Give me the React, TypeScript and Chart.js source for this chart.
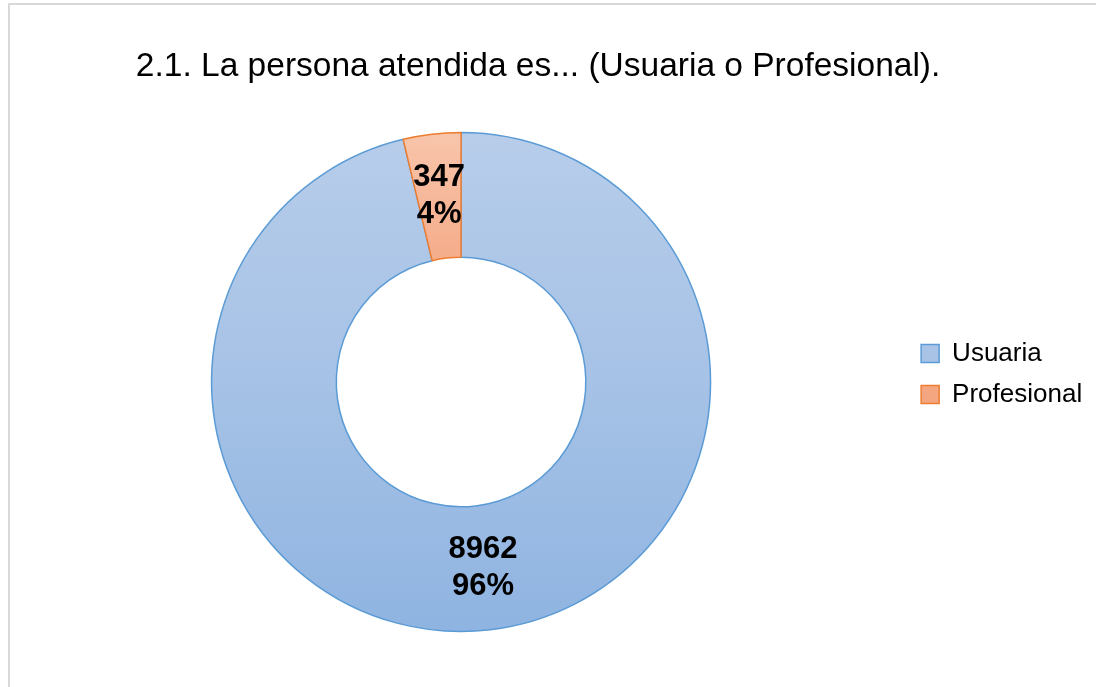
import React, { useEffect, useRef } from 'react';
import { Chart, registerables } from 'chart.js';

Chart.register(...registerables);

const TITLE = '2.1. La persona atendida es... (Usuaria o Profesional).';
const categories = ['Usuaria', 'Profesional'];
const values = [8962, 347];

const borderColors = ['#5b9bd5', '#ed7d31'];
const gradientStops: [number, string][][] = [
  [[0, '#b7cdea'], [0.5, '#a6c2e6'], [1, '#8fb4e1']],
  [[0, '#f8c5ab'], [0.25, '#f5ad8b'], [1, '#f29a6d']],
];

const FONT = '"Liberation Sans", Arial, sans-serif';

const sliceLabels = {
  id: 'sliceLabels',
  afterDatasetsDraw(chart: any) {
    const ctx = chart.ctx;
    const meta = chart.getDatasetMeta(0);
    const data: number[] = chart.data.datasets[0].data;
    const total = data.reduce((a, b) => a + b, 0);
    ctx.save();
    ctx.font = `bold 31px ${FONT}`;
    ctx.fillStyle = '#000000';
    ctx.textAlign = 'center';
    ctx.textBaseline = 'middle';
    meta.data.forEach((arc: any, i: number) => {
      const p = arc.tooltipPosition(false);
      const pct = Math.round((data[i] / total) * 100);
      ctx.fillText(String(data[i]), p.x, p.y - 18.5);
      ctx.fillText(pct + '%', p.x, p.y + 18.5);
    });
    ctx.restore();
  },
};

export default function App() {
  const ref = useRef<HTMLCanvasElement>(null);

  useEffect(() => {
    if (!ref.current) return;
    Chart.defaults.font.family = FONT;
    const chart = new Chart(ref.current, {
      type: 'doughnut',
      data: {
        labels: categories,
        datasets: [
          {
            data: values,
            backgroundColor: (c: any) => {
              const { ctx, chartArea } = c.chart;
              const i = c.dataIndex ?? 0;
              if (!chartArea) return borderColors[i];
              const g = ctx.createLinearGradient(0, chartArea.top, 0, chartArea.bottom);
              gradientStops[i].forEach(([o, col]) => g.addColorStop(o, col));
              return g;
            },
            borderColor: borderColors,
            borderWidth: 1.5,
            hoverOffset: 0,
          },
        ],
      },
      options: {
        responsive: false,
        devicePixelRatio: 1,
        animation: false,
        events: [],
        cutout: '50%',
        layout: { padding: { left: 0, right: 3.8, top: 0, bottom: 54.75 } },
        plugins: {
          title: {
            display: true,
            text: TITLE,
            color: '#000000',
            font: { size: 33.5, weight: 'normal', family: FONT, lineHeight: 1.2 },
            padding: { top: 47, bottom: 44.55 },
          },
          subtitle: {
            display: true,
            position: 'left',
            text: '',
            font: { size: 10, lineHeight: 1 },
            padding: { top: 22, bottom: 0 },
          },
          legend: {
            display: true,
            position: 'right',
            align: 'center',
            title: {
              display: true,
              text: '',
              font: { size: 10, lineHeight: 1 },
              padding: { top: 105.5, bottom: 0 },
            },
            labels: {
              boxWidth: 18,
              boxHeight: 18,
              padding: 15,
              color: '#000000',
              font: { size: 26, family: FONT },
            },
          },
          tooltip: { enabled: false },
        },
      },
      plugins: [sliceLabels],
    } as any);
    return () => chart.destroy();
  }, []);

  return (
    <div
      style={{
        position: 'fixed',
        left: 0,
        top: 0,
        width: 1096,
        height: 687,
        overflow: 'hidden',
        background: '#ffffff',
      }}
    >
      <div
        style={{
          position: 'absolute',
          left: 8,
          top: 3,
          width: 1200,
          height: 800,
          border: '2px solid #d9d9d9',
          boxSizing: 'border-box',
        }}
      />
      <canvas
        ref={ref}
        width={1112}
        height={687}
        style={{ position: 'absolute', left: -16, top: 0, width: 1112, height: 687 }}
      />
    </div>
  );
}
